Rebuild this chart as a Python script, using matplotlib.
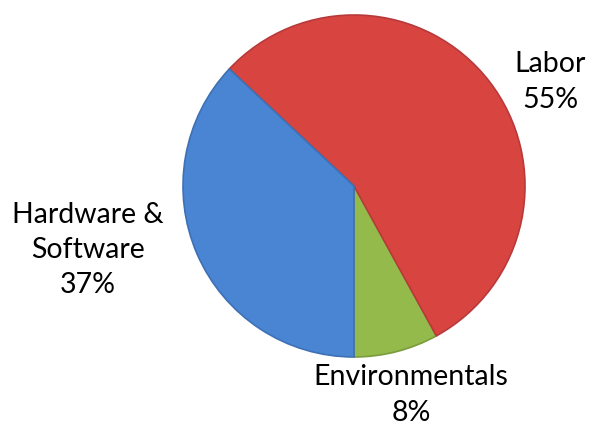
import matplotlib.pyplot as plt

labels = ['Environmentals', 'Labor', 'Hardware &\nSoftware']
shares = [8, 55, 37]
colors = ['#93BA4B', '#D84541', '#4A85D3']
edges = ['#7A9C3C', '#B8393A', '#3E70B4']

# label positions in pie-radius units
label_pos = [(0.333, -1.222), (1.146, 0.608), (-1.556, -0.374)]


def main():
    fig = plt.figure(figsize=(5.97, 4.29), dpi=100)
    ax = fig.add_axes([(354 - 171) / 597, (429 - 357) / 429, 342 / 597, 342 / 429])
    wedges, _ = ax.pie(shares, colors=colors, startangle=270, counterclock=True,
                       radius=1.0, wedgeprops=dict(linewidth=1.2))
    for w, ec in zip(wedges, edges):
        w.set_edgecolor(ec)

    for lab, val, (x, y) in zip(labels, shares, label_pos):
        ax.text(x, y, f'{lab}\n{val}%', ha='center', va='center',
                fontsize=20.5, family=['Lato', 'DejaVu Sans'], linespacing=1.45,
                clip_on=False)

    ax.set_xlim(-1, 1)
    ax.set_ylim(-1, 1)
    ax.set_aspect('equal')
    ax.axis('off')
    fig.savefig('out.png', dpi=100)


if __name__ == "__main__":
    main()
